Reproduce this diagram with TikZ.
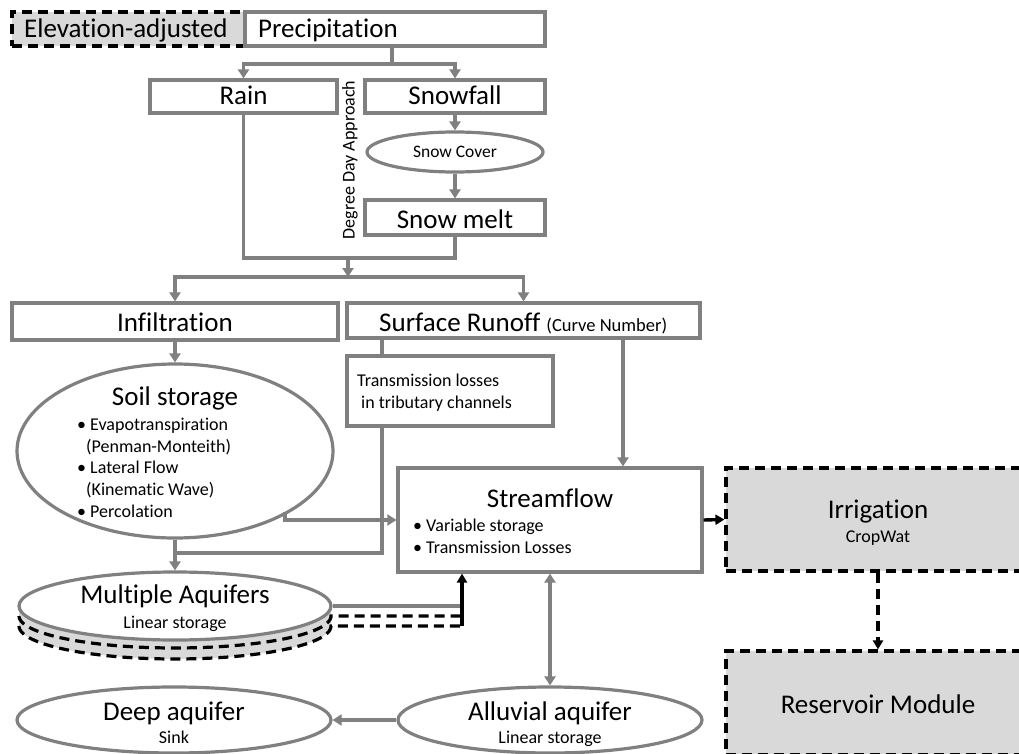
\documentclass[tikz,border=0pt]{standalone}
\usepackage{fontspec}
\setmainfont[Ligatures={NoCommon}]{Carlito}
\usetikzlibrary{arrows.meta,shapes.geometric,calc}
\definecolor{lineg}{HTML}{808080}
\definecolor{fillg}{HTML}{D9D9D9}

\begin{document}
\begin{tikzpicture}[x=1pt,y=-1pt,
  gbox/.style={draw=lineg, line width=3.2pt, fill=white, rectangle, inner sep=0pt},
  gell/.style={draw=lineg, line width=3.2pt, fill=white, ellipse, inner sep=0pt},
  dbox/.style={draw=black, line width=3.2pt, fill=fillg, dash pattern=on 10pt off 6pt, rectangle, inner sep=0pt},
  big/.style={font=\fontsize{27}{32}\selectfont, inner sep=0pt, anchor=base},
  small/.style={font=\fontsize{18}{21}\selectfont, inner sep=0pt, anchor=base},
  gline/.style={draw=lineg, line width=3.2pt},
  garr/.style={gline, -{Triangle[length=9pt,width=11pt]}},
  gboth/.style={gline, {Triangle[length=9pt,width=11pt]}-{Triangle[length=9pt,width=11pt]}},
  barr/.style={draw=black, line width=3.4pt, -{Triangle[length=9pt,width=10pt]}},
  bdash/.style={draw=black, line width=3.2pt, dash pattern=on 10pt off 6pt},
  bdarr/.style={bdash, -{Triangle[length=9pt,width=10pt]}}
]
\useasboundingbox (0,0) rectangle (1019,754);

% ---- precipitation split ----
\node[dbox, minimum width=233pt, minimum height=34pt] (elev) at (128.5,29) {};
\node[gbox, minimum width=300pt, minimum height=34pt] (precip) at (395,29) {};
\node[big, anchor=base west] (elev-t) at (24,38) {Elevation-adjusted};
\node[big, anchor=base west] (precip-t) at (258,38) {Precipitation};

\node[gbox, minimum width=187pt, minimum height=33pt] (rain) at (243.5,96.5) {};
\node[big] (rain-t) at (243.5,105) {Rain};
\node[gbox, minimum width=180pt, minimum height=33pt] (snowfall) at (455,96.5) {};
\node[big] (snowfall-t) at (455,105) {Snowfall};
\node[gell, minimum width=176pt, minimum height=40pt] (snowcov) at (455,152) {};
\node[small, font=\fontsize{17.5}{20}\selectfont] (snowcov-t) at (455,158) {Snow Cover};
\node[gbox, minimum width=180pt, minimum height=35pt] (snowmelt) at (455,217.5) {};
\node[big] (snowmelt-t) at (455,228) {Snow melt};
\node[rotate=90, font=\fontsize{18}{21}\selectfont, inner sep=0pt] (degday) at (350,160) {Degree Day Approach};

% ---- partition of water ----
\node[gbox, minimum width=326pt, minimum height=37pt] (infil) at (175,321.5) {};
\node[big] (infil-t) at (175,331) {Infiltration};
\node[gbox, minimum width=353pt, minimum height=35pt] (surf) at (523.5,320.5) {};
\node[big, anchor=base west] (surf-t) at (379,331) {Surface Runoff {\fontsize{18.5}{21}\selectfont(Curve Number)}};
\node[gbox, minimum width=206pt, minimum height=70pt] (trans) at (450,391) {};
\node[small, anchor=base west] (trans-t1) at (357,386) {Transmission losses};
\node[small, anchor=base west] (trans-t2) at (361,408) {in tributary channels};

% ---- soil storage ----
\node[gell, minimum width=316pt, minimum height=174pt] (soil) at (175,451) {};
\node[big] (soil-t) at (175,405) {Soil storage};
\node[small, anchor=base west] (soil-l1) at (77,430) {• Evapotranspiration};
\node[small, anchor=base west] (soil-l2) at (86,452) {(Penman-Monteith)};
\node[small, anchor=base west] (soil-l3) at (77,473) {• Lateral Flow};
\node[small, anchor=base west] (soil-l4) at (86,495) {(Kinematic Wave)};
\node[small, anchor=base west] (soil-l5) at (77,517) {• Percolation};

% ---- streamflow and water use ----
\node[gbox, minimum width=304pt, minimum height=104pt] (stream) at (550,520) {};
\node[big] (stream-t) at (550,507) {Streamflow};
\node[small, anchor=base west] (stream-l1) at (413,531) {• Variable storage};
\node[small, anchor=base west] (stream-l2) at (413,553) {• Transmission Losses};

\node[dbox, minimum width=304pt, minimum height=103pt] (irrig) at (878,519.5) {};
\node[big] (irrig-t) at (878,518) {Irrigation};
\node[small] (irrig-s) at (878,542) {CropWat};
\node[dbox, minimum width=304pt, minimum height=104pt] (reserv) at (878,703) {};
\node[big] (reserv-t) at (878,713) {Reservoir Module};

% ---- aquifers ----
\fill[fillg] plot[domain=180:0, samples=60, variable=\t] ({175+156*cos(\t)},{626+33*sin(\t)})
  -- (331,606) -- (19,606) -- cycle;
\draw[bdash] plot[domain=180:0, samples=60, variable=\t] ({175+156*cos(\t)},{616+32*sin(\t)})
  -- (462,616);
\draw[bdash] plot[domain=180:0, samples=60, variable=\t] ({175+156*cos(\t)},{626+33*sin(\t)})
  -- (462,626);
\coordinate (aqj) at (462,626);
\node[gell, minimum width=312pt, minimum height=68pt] (multaq) at (175,606) {};
\node[big] (multaq-t) at (175,603) {Multiple Aquifers};
\node[small] (multaq-s) at (175,628) {Linear storage};

\node[gell, minimum width=314pt, minimum height=66pt] (deep) at (174,720) {};
\node[big] (deep-t) at (174,720) {Deep aquifer};
\node[small] (deep-s) at (174,743) {Sink};
\node[gell, minimum width=304pt, minimum height=66pt] (alluv) at (550,720) {};
\node[big] (alluv-t) at (550,720) {Alluvial aquifer};
\node[small] (alluv-s) at (550,743) {Linear storage};

% ---- connectors ----
\coordinate (pj) at (392,64);
\draw[gline] (precip.south -| pj) -- (pj);
\draw[garr] (pj) -| (rain.north);
\draw[garr] (pj) -| (snowfall.north);
\draw[garr] (snowfall.south) -- (snowcov.north);
\draw[garr] (snowcov.south) -- (snowmelt.north);

\coordinate (mj) at (348,258);
\coordinate (sj) at (348,277);
\draw[gline] (rain.south) |- (mj) -| (snowmelt.south);
\draw[garr] (mj) -- (sj);
\draw[gline] (infil.north |- sj) -- (surf.north |- sj);
\draw[garr] (sj) -| (infil.north);
\draw[garr] (sj) -| (surf.north);

\draw[garr] (infil.south) -- (soil.north);
\coordinate (tcol) at (382,338);
\coordinate (tj) at (175,553);
\draw[gline] (surf.south -| tcol) -- (trans.north -| tcol);
\draw[gline] (trans.south -| tcol) |- (tj);
\draw[garr] (soil.south) -- (multaq.north);

\coordinate (rcol) at (623,338);
\draw[garr] (surf.south -| rcol) -- (stream.north -| rcol);
\coordinate (so) at (285,512);
\draw[garr] (so) |- (stream.west);

\draw[barr] (stream.east) -- (irrig.west);
\draw[bdarr] (irrig.south) -- (reserv.north);

\draw[gline] (multaq.east) -- (multaq.east -| aqj);
\draw[barr] (aqj) -- (aqj |- stream.south);
\draw[gboth] (stream.south) -- (alluv.north);
\draw[garr] (alluv.west) -- (deep.east);
\end{tikzpicture}
\end{document}
